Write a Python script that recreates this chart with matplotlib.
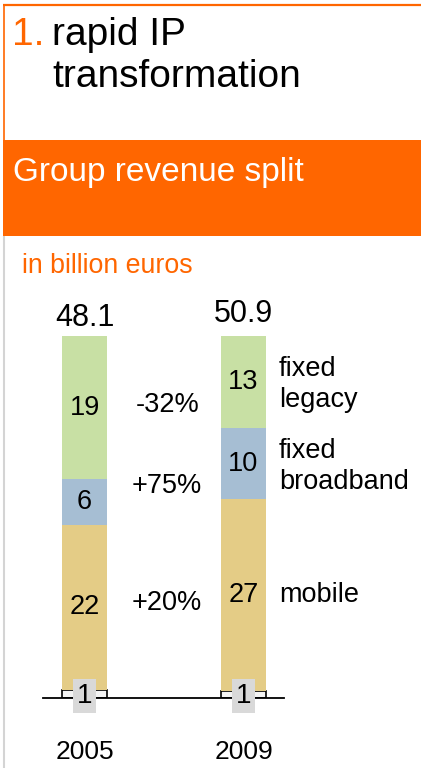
import matplotlib
matplotlib.use('Agg')
import matplotlib.pyplot as plt
from matplotlib.patches import Rectangle

# ---- data ----
years = ['2005', '2009']
totals = [48.1, 50.9]
other = [1, 1]
mobile = [22, 27]
broadband = [6, 10]
legacy = [19, 13]
series_labels = ['mobile', 'fixed\nbroadband', 'fixed\nlegacy']
changes = ['+20%', '+75%', '-32%']

plt.rcParams['font.family'] = ['Liberation Sans', 'DejaVu Sans']

W, H = 421, 768
ORANGE = '#ff6600'
GREEN = '#c8e0a4'
BLUE = '#a6bed3'
YELLOW = '#e4cc86'
GRAY = '#d9d9d9'

fig = plt.figure(figsize=(W / 100, H / 100), dpi=100)

# ---- decoration layer (pixel coordinates) ----
deco = fig.add_axes([0, 0, 1, 1])
deco.set_xlim(0, W)
deco.set_ylim(H, 0)
deco.axis('off')
deco.plot([3, W], [5, 5], color=ORANGE, lw=1.6, solid_capstyle='butt')
deco.plot([3.5, 3.5], [5, 140], color=ORANGE, lw=1.2, solid_capstyle='butt')
deco.plot([3.5, 3.5], [236, H], color='#d4d4d4', lw=1.5, solid_capstyle='butt')
deco.add_patch(Rectangle((3, 140), W - 3, 96, facecolor=ORANGE, lw=0))
deco.text(12, 45, '1.', color=ORANGE, fontsize=28, va='baseline')
deco.text(52, 45, 'rapid IP', color='black', fontsize=28, va='baseline')
deco.text(52, 87, 'transformation', color='black', fontsize=28, va='baseline')
deco.text(13, 181, 'Group revenue split', color='white', fontsize=24, va='baseline')
deco.text(22, 273, 'in billion euros', color=ORANGE, fontsize=19.3, va='baseline')

# ---- chart ----
ax = fig.add_axes([43 / W, 70 / H, 241 / W, 362 / H])
ax.set_xlim(-41.5 / 159, 1 + 40.5 / 159)
ax.set_ylim(0, 1)
ax.patch.set_alpha(0)
for s in ['top', 'right', 'left']:
    ax.spines[s].set_visible(False)
ax.spines['bottom'].set_linewidth(1.3)
ax.spines['bottom'].set_zorder(5)
ax.set_xticks([])
ax.set_yticks([])

bw = 45 / 159
xs = [0, 1]
sums = [o + m + b + l for o, m, b, l in zip(other, mobile, broadband, legacy)]
sh = lambda arr: [v / s for v, s in zip(arr, sums)]
o_s, m_s, b_s, l_s = sh(other), sh(mobile), sh(broadband), sh(legacy)

ax.bar(xs, o_s, width=bw, color='#f4f4f4', edgecolor='black', lw=1.2, zorder=2)
bot1 = o_s
ax.bar(xs, m_s, width=bw, bottom=bot1, color=YELLOW, lw=0, zorder=2)
bot2 = [a + b for a, b in zip(bot1, m_s)]
ax.bar(xs, b_s, width=bw, bottom=bot2, color=BLUE, lw=0, zorder=2)
bot3 = [a + b for a, b in zip(bot2, b_s)]
ax.bar(xs, l_s, width=bw, bottom=bot3, color=GREEN, lw=0, zorder=2)

FS = 19.5
for i in range(2):
    ax.text(xs[i], bot1[i] + m_s[i] / 2, f'{mobile[i]}', ha='center', va='center', fontsize=FS, zorder=6)
    ax.text(xs[i], bot2[i] + b_s[i] / 2, f'{broadband[i]}', ha='center', va='center', fontsize=FS, zorder=6)
    ax.text(xs[i], bot3[i] + l_s[i] / 2, f'{legacy[i]}', ha='center', va='center', fontsize=FS, zorder=6)
    ax.text(xs[i], o_s[i] / 2 - 0.004, f'{other[i]}', ha='center', va='center', fontsize=20, zorder=7,
            bbox=dict(boxstyle='square,pad=0.15', facecolor=GRAY, edgecolor='none'))

# totals
tot_y = [1.028, 1.039]
for i in range(2):
    ax.text(xs[i], tot_y[i], f'{totals[i]:.1f}', ha='center', va='baseline', fontsize=22)

# years
for i in range(2):
    ax.text(xs[i], -0.1685, years[i], ha='center', va='baseline', fontsize=19)

# changes
chg_y = [0.243, 0.566, 0.790]
for c, y in zip(changes, chg_y):
    ax.text(0.52, y, c, ha='center', va='baseline', fontsize=19.5)

# series labels on the right
lab_x = 1 + bw / 2 + 13 / 159
lab_y = {'mobile': [0.265], 'fixed\nbroadband': [0.663, 0.577], 'fixed\nlegacy': [0.8895, 0.804]}
for lab in series_labels:
    for line, y in zip(lab.split('\n'), lab_y[lab]):
        ax.text(lab_x, y, line, ha='left', va='baseline', fontsize=19.5)

fig.savefig('out.png', dpi=100)
